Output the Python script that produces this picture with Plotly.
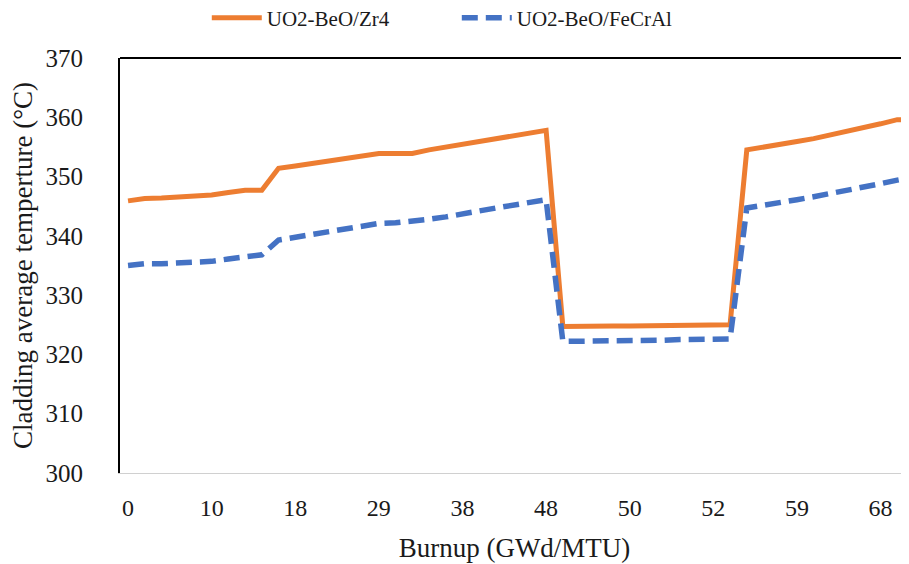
import plotly.graph_objects as go

# category index along the burnup axis
idx = list(range(48))
tick_pos = [0, 5, 10, 15, 20, 25, 30, 35, 40, 45]
tick_labels = ["0", "10", "18", "29", "38", "48", "50", "52", "59", "68"]

zr4 = [345.9, 346.3, 346.4, 346.5, 346.6, 346.9, 347.3, 347.7, 347.7, 351.4,
       351.8, 352.2, 352.6, 353.0, 353.5, 353.9, 353.9, 353.9, 354.5, 355.0,
       355.5, 356.0, 356.4, 356.8, 357.5, 357.8, 324.7, 324.8, 324.8, 324.8,
       324.8, 324.8, 324.9, 324.9, 325.0, 325.0, 325.0, 354.5, 354.9, 355.4,
       355.9, 356.4, 357.0, 357.5, 358.2, 358.9, 359.6, 359.6]

fecral = [335.0, 335.3, 335.3, 335.4, 335.4, 335.7, 336.1, 336.5, 336.8, 339.3,
          339.8, 340.2, 340.7, 341.2, 341.6, 342.1, 342.2, 342.4, 342.8, 343.2,
          343.6, 344.2, 344.7, 345.2, 345.7, 346.1, 322.2, 322.2, 322.3, 322.3,
          322.3, 322.4, 322.4, 322.5, 322.5, 322.6, 322.6, 344.7, 345.1, 345.6,
          346.1, 346.6, 347.1, 347.6, 348.2, 348.8, 349.4, 349.9]

FONT = "Liberation Serif"

fig = go.Figure()
fig.add_trace(go.Scatter(x=idx, y=zr4, mode="lines", name="UO2-BeO/Zr4",
                         line=dict(color="#ED7D31", width=5)))
fig.add_trace(go.Scatter(x=idx, y=fecral, mode="lines", name="UO2-BeO/FeCrAl",
                         line=dict(color="#4472C4", width=5.5, dash="16px,8px")))

# page body has an 8px margin, so the figure is sized to fit the window
fig.update_layout(
    width=901, height=556,
    margin=dict(l=112, r=0, t=50, b=91, autoexpand=False),
    paper_bgcolor="white", plot_bgcolor="white",
    font=dict(family=FONT, size=20, color="#1a1a1a"),
    showlegend=True,
    legend=dict(orientation="h", x=0.11, y=1.096, xanchor="left", yanchor="middle",
                font=dict(family=FONT, size=21, color="#1a1a1a"),
                itemwidth=50, tracegroupgap=0, entrywidth=185,
                bgcolor="rgba(0,0,0,0)"),
    xaxis=dict(range=[-0.48, 46.7], tickmode="array", tickvals=tick_pos,
               ticktext=tick_labels, showgrid=False, zeroline=False,
               showline=True, linecolor="#d0d0d0", linewidth=1,
               ticks="outside", ticklen=13, tickcolor="rgba(0,0,0,0)",
               tickfont=dict(family=FONT, size=24),
               title=dict(text="Burnup (GWd/MTU)", standoff=18,
                          font=dict(family=FONT, size=27))),
    yaxis=dict(range=[300, 370], tickmode="array",
               tickvals=[300, 310, 320, 330, 340, 350, 360, 370],
               showgrid=False, zeroline=False,
               showline=True, linecolor="black", linewidth=2,
               ticks="outside", ticklen=30, tickcolor="rgba(0,0,0,0)",
               tickfont=dict(family=FONT, size=25),
               title=dict(text="Cladding average temperture (°C)", standoff=9,
                          font=dict(family=FONT, size=27))),
    shapes=[dict(type="line", xref="paper", yref="paper", x0=0, x1=1, y0=1, y1=1,
                 line=dict(color="black", width=2))],
)

fig.write_html("out.html")
